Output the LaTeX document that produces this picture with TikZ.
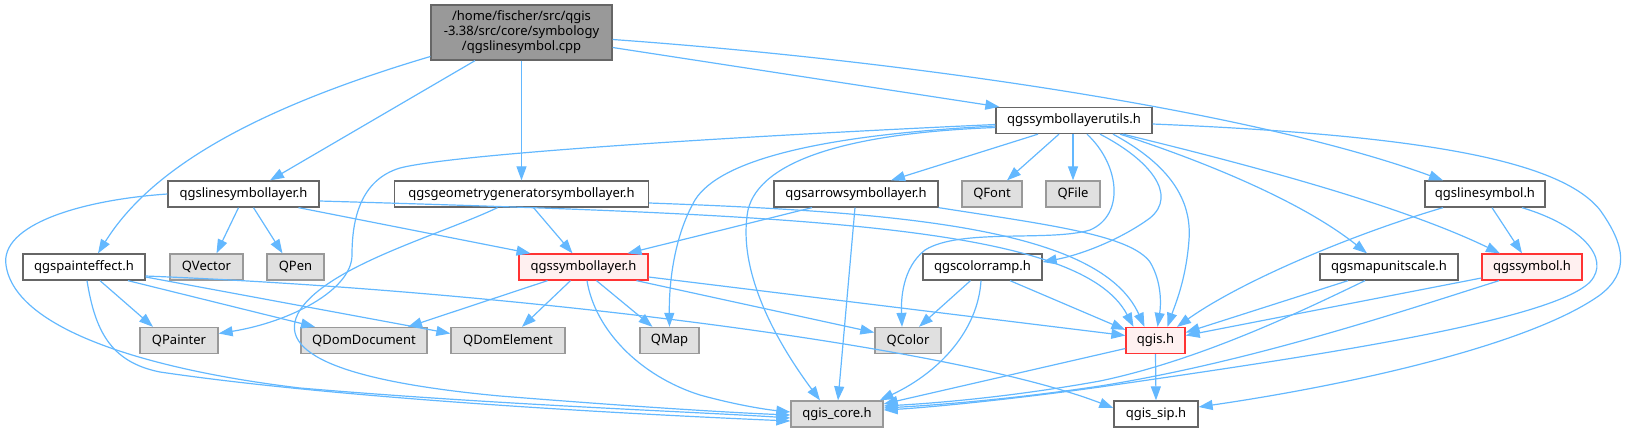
\documentclass[tikz,border=0pt]{standalone}
\usepackage{fontspec}
\setmainfont{Noto Sans}
\usetikzlibrary{arrows.meta}
\definecolor{edgec}{HTML}{63B8FF}
\definecolor{nbord}{HTML}{666666}
\definecolor{gbord}{HTML}{999999}
\definecolor{gfill}{HTML}{E0E0E0}
\definecolor{rfill}{HTML}{FFF0F0}
\definecolor{rbord}{HTML}{FF3333}
\definecolor{rootfill}{HTML}{999999}
\begin{document}
\begin{tikzpicture}[x=1pt,y=-1pt,
  nb/.style={draw=nbord, fill=white, line width=1.3pt, minimum height=26pt, inner sep=0pt, font=\fontsize{13}{15}\selectfont},
  gb/.style={nb, draw=gbord, fill=gfill},
  rb/.style={nb, draw=rbord, fill=rfill},
  edge/.style={draw=edgec, line width=1.2pt, -{Triangle[length=14pt,width=10pt]}}
]
\useasboundingbox (0,0) rectangle (1626,432);
% nodes
\node[nb, fill=rootfill, minimum width=181pt, minimum height=55pt, align=center] (root) at (521.5,32.5) {/home/fischer/src/qgis\\-3.38/src/core/symbology\\/qgslinesymbol.cpp};
\node[nb, minimum width=156pt] (utils) at (1074,120.5) {qgssymbollayerutils.h};
% row 3
\node[nb, minimum width=151pt] (lsl) at (243.5,194) {qgslinesymbollayer.h};
\node[nb, minimum width=254pt] (geo) at (521.5,194) {qgsgeometrygeneratorsymbollayer.h};
\node[nb, minimum width=164pt] (arrow) at (856,194) {qgsarrowsymbollayer.h};
\node[gb, minimum width=60pt] (qfont) at (992,194) {QFont};
\node[gb, minimum width=54pt] (qfile) at (1073,194) {QFile};
\node[nb, minimum width=120pt] (ls) at (1485,194) {qgslinesymbol.h};
% row 4
\node[nb, minimum width=122pt] (pe) at (84,267) {qgspainteffect.h};
\node[gb, minimum width=73pt] (qvector) at (206.5,267) {QVector};
\node[gb, minimum width=57pt] (qpen) at (295.5,267) {QPen};
\node[rb, minimum width=129pt] (sl) at (583.5,267) {qgssymbollayer.h};
\node[nb, minimum width=119pt] (cr) at (982.5,267) {qgscolorramp.h};
\node[nb, minimum width=138pt] (mus) at (1389,267) {qgsmapunitscale.h};
\node[rb, minimum width=100pt] (sym) at (1532,267) {qgssymbol.h};
% row 5
\node[gb, minimum width=78pt] (qpainter) at (179,340.5) {QPainter};
\node[gb, minimum width=126pt] (qdomdoc) at (364,340.5) {QDomDocument};
\node[gb, minimum width=114pt] (qdomel) at (508,340.5) {QDomElement};
\node[gb, minimum width=59pt] (qmap) at (669.5,340.5) {QMap};
\node[gb, minimum width=66pt] (qcolor) at (908,340.5) {QColor};
\node[rb, minimum width=59pt] (qgis) at (1155.5,340.5) {qgis.h};
% row 6
\node[gb, minimum width=92pt] (core) at (837,414) {qgis\_core.h};
\node[nb, minimum width=84pt] (sip) at (1156,414) {qgis\_sip.h};

% root edges
\draw[edge] ([yshift=-24pt]root.west) .. controls (250,110) and (150,170) .. ([xshift=14pt]pe.north);
\draw[edge] ([xshift=-46.5pt]root.south) -- ([xshift=26.5pt]lsl.north);
\draw[edge] (root.south) -- (geo.north);
\draw[edge] ([yshift=-15pt]root.east) -- ([xshift=4pt]utils.north west);
\draw[edge] ([yshift=-7pt]root.east) .. controls (900,60) and (1250,110) .. ([xshift=-42pt]ls.north);
% utils edges
\draw[edge] ([yshift=-4pt]utils.west) .. controls (700,138) and (450,155) .. (400,168) .. controls (360,180) and (352,220) .. (352,255) .. controls (352,290) and (290,322) .. ([yshift=7pt]qpainter.east);
\draw[edge] ([yshift=-5.5pt]utils.west) .. controls (820,135) and (720,160) .. (695,200) .. controls (672,240) and (669,290) .. (qmap.north);
\draw[edge] ([yshift=-7pt]utils.west) .. controls (850,133) and (760,160) .. (748,210) .. controls (735,280) and (790,360) .. ([xshift=-17pt]core.north);
\draw[edge] ([xshift=-36pt]utils.south) -- ([xshift=35pt]arrow.north);
\draw[edge] ([xshift=-15pt]utils.south) -- ([xshift=15pt]qfont.north);
\draw[edge] ([xshift=-1pt]utils.south) -- (qfile.north);
\draw[edge] ([xshift=13pt]utils.south) .. controls (1120,165) and (1125,215) .. (1090,230) .. controls (1050,242) and (960,228) .. (925,250) .. controls (902,268) and (901,300) .. ([xshift=-6pt]qcolor.north);
\draw[edge] ([xshift=26pt]utils.south) .. controls (1150,160) and (1178,195) .. (1150,218) .. controls (1120,240) and (1080,255) .. ([yshift=5pt]cr.east);
\draw[edge] ([xshift=39pt]utils.south) .. controls (1170,165) and (1192,200) .. (1189,240) .. controls (1186,280) and (1175,305) .. ([xshift=12pt]qgis.north);
\draw[edge] ([xshift=46pt]utils.south) .. controls (1200,160) and (1300,200) .. ([xshift=-22pt]mus.north);
\draw[edge] ([xshift=49pt]utils.south) .. controls (1250,165) and (1400,205) .. ([xshift=-32pt]sym.north);
\draw[edge] ([yshift=-3.5pt]utils.east) .. controls (1420,135) and (1560,160) .. (1600,210) .. controls (1625,245) and (1630,272) .. (1600,295) .. controls (1530,345) and (1350,385) .. ([yshift=7pt]sip.east);
% qgslinesymbollayer.h edges
\draw[edge] ([xshift=-5pt]lsl.south) -- ([xshift=10pt]qvector.north);
\draw[edge] ([xshift=10pt]lsl.south) -- ([xshift=-13pt]qpen.north);
\draw[edge] ([xshift=55pt]lsl.south) -- ([xshift=-53pt]sl.north);
\draw[edge] ([yshift=-7pt]lsl.east) .. controls (800,215) and (1080,225) .. ([xshift=-22pt]qgis.north);
\draw[edge] (lsl.west) .. controls (80,200) and (0,225) .. (6,265) .. controls (15,330) and (150,370) .. (300,388) .. controls (500,405) and (700,412) .. ([yshift=-4pt]core.west);
% qgspainteffect.h edges
\draw[edge] ([xshift=3pt]pe.south) .. controls (95,330) and (110,362) .. (160,372) .. controls (350,400) and (650,415) .. ([yshift=-7pt]core.west);
\draw[edge] ([xshift=16pt]pe.south) -- ([xshift=-26pt]qpainter.north);
\draw[edge] ([xshift=44pt]pe.south) -- ([xshift=-49pt]qdomdoc.north);
\draw[edge] ([yshift=-10pt]pe.east) -- ([yshift=7pt]qdomel.west);
\draw[edge] ([yshift=-9pt]pe.east) .. controls (500,290) and (950,345) .. ([yshift=6pt]sip.west);
% geometry generator edges
\draw[edge] ([xshift=12pt]geo.south) -- ([xshift=-11pt]sl.north);
\draw[edge] ([xshift=-24pt]geo.south) .. controls (440,235) and (330,265) .. (300,310) .. controls (272,355) and (350,382) .. (500,396) .. controls (650,408) and (740,413) .. ([yshift=-1pt]core.west);
\draw[edge] ([yshift=-9pt]geo.east) .. controls (900,212) and (1100,228) .. ([xshift=-11pt]qgis.north);
% arrow symbol layer edges
\draw[edge] ([xshift=-44pt]arrow.south) -- ([xshift=44pt]sl.north);
\draw[edge] ([xshift=-1pt]arrow.south) -- ([xshift=1pt]core.north);
\draw[edge] (arrow.south east) .. controls (1050,225) and (1130,235) .. (1150,262) .. controls (1162,282) and (1161,305) .. ([xshift=2pt]qgis.north);
% symbol layer edges
\draw[edge] ([xshift=-36pt]sl.south) -- ([xshift=44pt]qdomdoc.north);
\draw[edge] ([xshift=-13pt]sl.south) -- ([xshift=14pt]qdomel.north);
\draw[edge] ([xshift=13pt]sl.south) -- ([xshift=-17pt]qmap.north);
\draw[edge] ([xshift=3.5pt]sl.south) .. controls (595,330) and (640,376) .. (700,395) .. controls (740,406) and (770,410) .. ([yshift=2pt]core.west);
\draw[edge] ([xshift=53pt]sl.south) -- ([yshift=8pt]qcolor.west);
\draw[edge] ([yshift=-10pt]sl.east) -- ([yshift=5pt]qgis.west);
% color ramp edges
\draw[edge] ([xshift=-12pt]cr.south) -- ([xshift=11pt]qcolor.north);
\draw[edge] ([xshift=-1.5pt]cr.south) .. controls (978,330) and (940,372) .. ([xshift=-4pt]core.north east);
\draw[edge] ([xshift=27.5pt]cr.south) -- ([yshift=-3pt]qgis.north west);
% map unit scale edges
\draw[edge] ([xshift=-41pt]mus.south) -- ([yshift=8pt]qgis.east);
\draw[edge] ([xshift=-24pt]mus.south) .. controls (1300,312) and (1200,360) .. (1100,381) .. controls (1000,399) and (920,404) .. ([yshift=8pt]core.east);
% symbol edges
\draw[edge] ([yshift=-11pt]sym.west) -- ([yshift=5pt]qgis.east);
\draw[edge] ([xshift=-33pt]sym.south) .. controls (1400,312) and (1250,362) .. (1100,386) .. controls (1000,401) and (920,406) .. ([yshift=6pt]core.east);
% line symbol edges
\draw[edge] ([xshift=-42pt]ls.south) .. controls (1350,235) and (1240,282) .. ([xshift=21.5pt]qgis.north);
\draw[edge] ([xshift=7pt]ls.south) -- ([xshift=-10pt]sym.north);
\draw[edge] ([xshift=37pt]ls.south) .. controls (1580,225) and (1612,258) .. (1590,282) .. controls (1550,322) and (1300,358) .. (1100,387) .. controls (1000,401) and (920,408) .. ([yshift=4pt]core.east);
% qgis.h edges
\draw[edge] (qgis.south) -- (sip.north);
\draw[edge] ([yshift=-8pt]qgis.west) -- ([yshift=10pt]core.east);
\end{tikzpicture}
\end{document}
